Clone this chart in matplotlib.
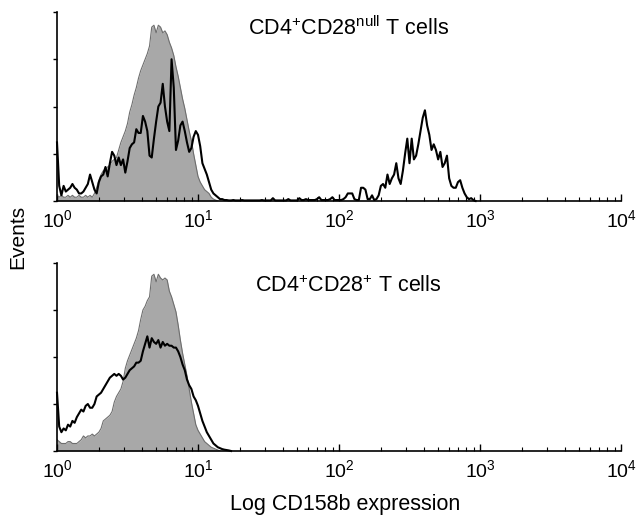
import numpy as np
import matplotlib
matplotlib.use("Agg")
import matplotlib.pyplot as plt
from matplotlib.ticker import LogLocator, NullFormatter, FixedLocator, NullLocator

plt.rcParams['font.family'] = ['Liberation Sans', 'DejaVu Sans']
plt.rcParams['mathtext.fontset'] = 'custom'
plt.rcParams['mathtext.rm'] = 'Liberation Sans'
plt.rcParams['mathtext.it'] = 'Liberation Sans:italic'

# channel resolution: 64 channels per decade, channel 0 = 10^0
CH_PER_DECADE = 64

# step 1 data (events, % of axis height) per channel
top_shaded = [
    3, 2, 3, 2, 2, 3, 2, 3, 2, 2,
    3, 2, 2, 3, 2, 3, 2, 4, 7, 11,
    14, 16, 17, 18, 19, 21, 22, 23, 27, 31,
    34, 37, 41, 47, 51, 56, 60, 65, 69, 72,
    75, 78, 82, 92, 93, 89, 93, 92, 89, 90,
    88, 84, 81, 77, 71, 66, 60, 54, 49, 43,
    37, 32, 25, 19, 13, 10, 8, 6, 5, 4,
    2, 1, 0.5, 0,
]
top_line = [
    31, 8, 3, 8, 5, 6, 7, 9, 7, 6,
    4, 4, 5, 7, 9, 14, 10, 6, 4, 10,
    13, 14, 18, 13, 20, 26, 24, 19, 23, 19,
    22, 15, 21, 28, 30, 31, 38, 36, 36, 45,
    42, 37, 24, 23, 33, 42, 50, 52, 62, 50,
    42, 37, 75, 60, 27, 32, 40, 42, 37, 31,
    26, 28, 34, 37, 35, 29, 20, 17, 14, 10,
    6, 4, 3, 2, 1, 1, 0.5, 0.5, 0.3, 0.3,
    0.5, 0.3, 0.3, 0.3, 0.5, 0.3, 0.3, 0.3, 0.3, 0.3,
    0.3, 0.3, 0.3, 0.5, 0.3, 0.3, 0.3, 0.3, 1.5, 0.3,
    0.3, 0.3, 0.3, 0.3, 0.3, 1, 0.3, 0.3, 0.3, 0.3,
    1.5, 0.5, 0.5, 1, 0.5, 0.5, 0.5, 0.5, 1, 2,
    0.5, 0.5, 0.5, 0.5, 1, 2, 0.5, 0.5, 0.5, 0.5,
    1, 2, 4, 4, 4, 1, 0.5, 0.5, 7, 7,
    6, 1, 1, 3, 0.5, 1, 3, 8, 9, 7,
    14, 9, 12, 14, 20, 12, 9, 16, 25, 33,
    20, 33, 22, 24, 30, 37, 44, 48, 40, 35,
    27, 30, 27, 22, 26, 18, 20, 24, 12, 8,
    7, 7, 10, 11, 7, 4, 2, 1, 1.5, 0.5, 0,
]
bottom_shaded = [
    6, 5, 4, 4, 4, 5, 5, 4, 4, 4,
    5, 6, 8, 7, 8, 8, 9, 8, 9, 10,
    12, 16, 17, 18, 19, 21, 26, 29, 31, 33,
    37, 44, 48, 51, 54, 57, 60, 64, 70, 75,
    77, 80, 82, 93, 94, 90, 94, 92, 91, 92,
    91, 85, 82, 78, 74, 67, 59, 52, 46, 40,
    33, 26, 20, 14, 11, 9, 7, 5, 4, 3,
    2, 1.5, 1, 0.5, 0,
]
bottom_line = [
    31, 13, 10, 12, 11, 14, 13, 16, 15, 18,
    20, 22, 21, 24, 25, 23, 23, 25, 29, 30,
    31, 33, 35, 37, 39, 40, 41, 40, 41, 40,
    38, 39, 41, 43, 44, 45, 47, 47, 48, 53,
    57, 61, 55, 60, 58, 57, 59, 55, 58, 56,
    57, 56, 56, 55, 55, 53, 50, 46, 43, 38,
    35, 33, 29, 27, 24, 20, 16, 13, 10, 8,
    6, 4, 3, 2, 1.5, 1, 0.7, 0.5, 0.3, 0,
]

titles = [r'CD4$^{+}$CD28$^{\mathrm{null}}$ T cells', r'CD4$^{+}$CD28$^{+}$ T cells']


def chan_to_value(counts):
    ch = np.arange(len(counts))
    return 10 ** (ch / CH_PER_DECADE)


# step 2 create plot
fig = plt.figure(figsize=(6.44, 5.17), dpi=100)
ax_top = fig.add_axes([57 / 644, 1 - 201 / 517, 564 / 644, 189 / 517])
ax_bot = fig.add_axes([57 / 644, 1 - 451 / 517, 564 / 644, 188 / 517])

panels = [
    (ax_top, top_shaded, top_line, titles[0], 0.878),
    (ax_bot, bottom_shaded, bottom_line, titles[1], 0.846),
]

for ax, shaded, line, title, ty in panels:
    xs = chan_to_value(shaded)
    ax.fill_between(xs, 0, shaded, color='#a8a8a8', lw=0, zorder=1)
    ax.plot(xs, shaded, color='#6e6e6e', lw=0.8, zorder=2)
    xl = chan_to_value(line)
    ax.plot(xl, line, color='black', lw=1.5, zorder=3, clip_on=False)

    ax.set_xscale('log')
    ax.set_xlim(1, 1e4)
    ax.set_ylim(0, 100)
    for s in ['top', 'right']:
        ax.spines[s].set_visible(False)
    for s in ['left', 'bottom']:
        ax.spines[s].set_linewidth(1.2)
        ax.spines[s].set_zorder(4)

    ax.xaxis.set_major_locator(LogLocator(base=10, numticks=10))
    ax.xaxis.set_minor_locator(LogLocator(base=10, subs=np.arange(2, 10), numticks=20))
    ax.xaxis.set_minor_formatter(NullFormatter())
    ax.tick_params(axis='x', which='major', direction='in', length=5, width=1,
                   labelsize=14, pad=6)
    ax.tick_params(axis='x', which='minor', direction='in', length=3, width=0.8)

    ax.yaxis.set_major_locator(FixedLocator([0, 25, 50, 75, 100]))
    ax.yaxis.set_minor_locator(NullLocator())
    ax.tick_params(axis='y', which='major', direction='out', length=3, width=1,
                   labelleft=False)

    ax.text(0.517, ty, title, transform=ax.transAxes, ha='center', va='baseline',
            fontsize=15.5)

fig.text(18 / 644, 1 - 237 / 517, 'Events', rotation=90, ha='center', va='center',
         fontsize=15)
fig.text(345 / 644, 1 - 510 / 517, 'Log CD158b expression', ha='center',
         va='baseline', fontsize=15.5)

fig.savefig('out.png', dpi=100)
